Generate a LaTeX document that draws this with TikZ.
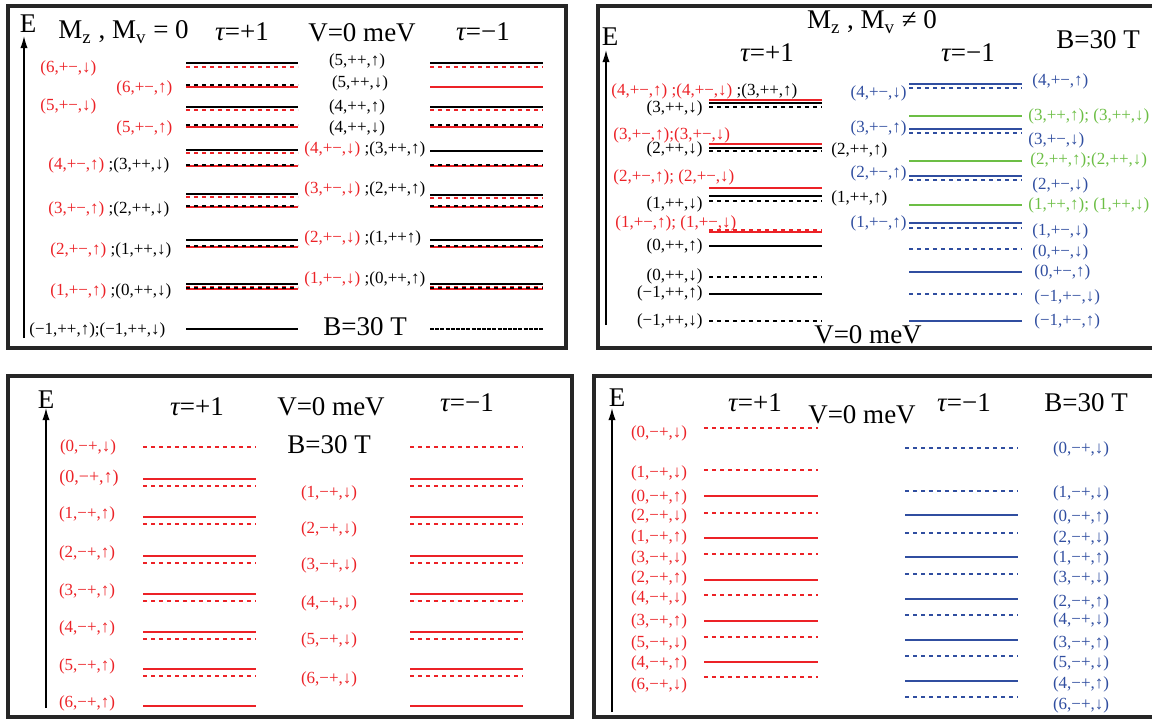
\documentclass[tikz,border=0pt]{standalone}
\usepackage{fontspec}
\setmainfont{Liberation Serif}
\usetikzlibrary{arrows.meta}
\definecolor{lvred}{RGB}{236,34,39}
\definecolor{lvblue}{RGB}{48,78,160}
\definecolor{lvgreen}{RGB}{108,190,69}
\newcommand{\tu}{{\itshape τ}}

\begin{document}
\begin{tikzpicture}[
  x=0.5pt, y=-0.5pt,
  frame/.style={draw=black!85, line width=1.6pt},
  eaxis/.style={-{Latex[length=6pt,width=3.6pt]}, line width=0.6pt},
  solidlv/.style={line width=1pt},
  dashlv/.style={line width=1pt, dash pattern=on 2pt off 2pt},
  big/.style={font=\fontsize{13.5}{15}\selectfont, inner sep=0pt},
  lbl/.style={font=\fontsize{8.5}{10}\selectfont, inner sep=0pt}
]
\useasboundingbox (0,0) rectangle (1152,720);

% ---------- panel 1: Mz, Mv = 0
\draw[frame] (8,6) rectangle (566,348);
\draw[eaxis] (24,338) -- (24,36);
\node[big] (e1) at (28,24) {E};
\node[big, anchor=west] (mz1) at (58,32) {M\textsubscript{z} , M\textsubscript{v} = 0};
\node[big] (tp1) at (242,32) {\tu=+1};
\node[big] (v1) at (362,33) {V=0 meV};
\node[big] (tm1) at (483,32) {\tu=−1};
\node[big] (b1) at (365,327) {B=30 T};

% tau=+1 levels
\draw[solidlv] (186,63) -- (298,63);
\draw[dashlv, lvred] (186,67) -- (298,67);
\draw[solidlv, lvred] (186,87) -- (298,87);
\draw[dashlv] (186,85) -- (298,85);
\draw[solidlv] (186,107) -- (298,107);
\draw[dashlv, lvred] (186,110) -- (298,110);
\draw[solidlv, lvred] (186,127) -- (298,127);
\draw[dashlv] (186,125) -- (298,125);
\draw[solidlv] (186,150) -- (298,150);
\draw[dashlv, lvred] (186,153) -- (298,153);
\draw[solidlv, lvred] (186,166) -- (298,166);
\draw[dashlv] (186,164.5) -- (298,164.5);
\draw[solidlv] (186,194) -- (298,194);
\draw[dashlv, lvred] (186,197) -- (298,197);
\draw[solidlv, lvred] (186,207) -- (298,207);
\draw[dashlv] (186,205.5) -- (298,205.5);
\draw[solidlv] (186,240) -- (298,240);
\draw[solidlv, lvred] (186,247) -- (298,247);
\draw[dashlv] (186,245.5) -- (298,245.5);
\draw[solidlv] (186,284) -- (298,284);
\draw[dashlv, lvred] (186,286.5) -- (298,286.5);
\draw[solidlv, lvred] (186,289) -- (298,289);
\draw[dashlv] (186,288) -- (298,288);
\draw[solidlv] (186,329) -- (298,329);

% tau=-1 levels
\draw[solidlv] (430,63) -- (543,63);
\draw[dashlv, lvred] (430,67) -- (543,67);
\draw[solidlv, lvred] (430,87) -- (543,87);
\draw[solidlv] (430,107) -- (543,107);
\draw[dashlv, lvred] (430,110) -- (543,110);
\draw[solidlv, lvred] (430,127) -- (543,127);
\draw[dashlv] (430,125) -- (543,125);
\draw[solidlv] (430,151) -- (543,151);
\draw[solidlv, lvred] (430,166) -- (543,166);
\draw[dashlv] (430,164.5) -- (543,164.5);
\draw[solidlv] (430,195) -- (543,195);
\draw[dashlv, lvred] (430,197.5) -- (543,197.5);
\draw[solidlv, lvred] (430,207) -- (543,207);
\draw[dashlv] (430,205.5) -- (543,205.5);
\draw[solidlv] (430,240) -- (543,240);
\draw[solidlv, lvred] (430,247) -- (543,247);
\draw[dashlv] (430,245.5) -- (543,245.5);
\draw[solidlv] (430,284) -- (543,284);
\draw[dashlv, lvred] (430,286.5) -- (543,286.5);
\draw[solidlv, lvred] (430,289) -- (543,289);
\draw[dashlv] (430,288) -- (543,288);
\draw[line width=1pt, dash pattern=on 2pt off 0.6pt] (430,329) -- (543,329);

% labels
\node[lbl, lvred, anchor=west] (a1) at (40,68) {(6,+−,↓)};
\node[lbl, lvred, anchor=west] (a2) at (116,88) {(6,+−,↑)};
\node[lbl, lvred, anchor=west] (a3) at (40,106) {(5,+−,↓)};
\node[lbl, lvred, anchor=west] (a4) at (116,128) {(5,+−,↑)};
\node[lbl, anchor=west] (a5) at (48,165) {\textcolor{lvred}{(4,+−,↑)} ;(3,++,↓)};
\node[lbl, anchor=west] (a6) at (48,209) {\textcolor{lvred}{(3,+−,↑)} ;(2,++,↓)};
\node[lbl, anchor=west] (a7) at (50,250) {\textcolor{lvred}{(2,+−,↑)} ;(1,++,↓)};
\node[lbl, anchor=west] (a8) at (50,291) {\textcolor{lvred}{(1,+−,↑)} ;(0,++,↓)};
\node[lbl, anchor=west] (a9) at (29,330) {(−1,++,↑);(−1,++,↓)};
\node[lbl] (c1) at (357,61) {(5,++,↑)};
\node[lbl] (c2) at (360,83) {(5,++,↓)};
\node[lbl] (c3) at (357,107) {(4,++,↑)};
\node[lbl] (c4) at (357,128) {(4,++,↓)};
\node[lbl, anchor=west] (c5) at (304,149) {\textcolor{lvred}{(4,+−,↓)} ;(3,++,↑)};
\node[lbl, anchor=west] (c6) at (304,189) {\textcolor{lvred}{(3,+−,↓)} ;(2,++,↑)};
\node[lbl, anchor=west] (c7) at (304,238) {\textcolor{lvred}{(2,+−,↓)} ;(1,++↑)};
\node[lbl, anchor=west] (c8) at (304,279) {\textcolor{lvred}{(1,+−,↓)} ;(0,++,↑)};

% ---------- panel 2: Mz, Mv != 0
\draw[frame] (598,6) rectangle (1156,348);
\draw[eaxis] (606,325) -- (606,50);
\node[big] (e2) at (610,37) {E};
\node[big] (mz2) at (872,22) {M\textsubscript{z} , M\textsubscript{v} ≠ 0};
\node[big] (tp2) at (767,53) {\tu=+1};
\node[big] (tm2) at (968,53) {\tu=−1};
\node[big] (b2) at (1098,40) {B=30 T};
\node[big] (v2) at (868,335) {V=0 meV};

% tau=+1 levels
\draw[solidlv, lvred, line width=1.4pt] (709,100) -- (822,100);
\draw[solidlv] (709,103) -- (822,103);
\draw[dashlv] (709,106.5) -- (822,106.5);
\draw[solidlv, lvred, line width=1.4pt] (709,144) -- (822,144);
\draw[solidlv] (709,147.5) -- (822,147.5);
\draw[dashlv] (709,151) -- (822,151);
\draw[solidlv, lvred, line width=1.4pt] (709,188) -- (822,188);
\draw[solidlv] (709,196) -- (822,196);
\draw[dashlv] (709,200.5) -- (822,200.5);
\draw[dashlv, lvred] (709,229.5) -- (822,229.5);
\draw[solidlv, lvred, line width=1.4pt] (709,232) -- (822,232);
\draw[solidlv] (709,246) -- (822,246);
\draw[dashlv] (709,277) -- (822,277);
\draw[solidlv] (709,294) -- (822,294);
\draw[dashlv] (709,321) -- (822,321);

% tau=-1 levels
\draw[solidlv, lvblue] (909,84) -- (1022,84);
\draw[dashlv, lvblue] (909,87.5) -- (1022,87.5);
\draw[solidlv, lvgreen, line width=1.3pt] (909,116) -- (1022,116);
\draw[solidlv, lvblue] (909,129) -- (1022,129);
\draw[dashlv, lvblue] (909,133) -- (1022,133);
\draw[solidlv, lvgreen, line width=1.3pt] (909,161) -- (1022,161);
\draw[solidlv, lvblue] (909,176) -- (1022,176);
\draw[dashlv, lvblue] (909,180) -- (1022,180);
\draw[solidlv, lvgreen, line width=1.3pt] (909,205) -- (1022,205);
\draw[solidlv, lvblue] (909,223) -- (1022,223);
\draw[dashlv, lvblue] (909,228) -- (1022,228);
\draw[dashlv, lvblue] (909,249) -- (1022,249);
\draw[solidlv, lvblue] (909,272) -- (1022,272);
\draw[dashlv, lvblue] (909,294) -- (1022,294);
\draw[solidlv, lvblue] (909,321) -- (1022,321);

% labels
\node[lbl, anchor=west] (d1) at (611,91) {\textcolor{lvred}{(4,+−,↑) ;(4,+−,↓)} ;(3,++,↑)};
\node[lbl, anchor=east] (d2) at (703,108) {(3,++,↓)};
\node[lbl, lvred, anchor=west] (d3) at (613,135) {(3,+−,↑);(3,+−,↓)};
\node[lbl, anchor=east] (d4) at (703,149) {(2,++,↓)};
\node[lbl, anchor=west] (d5) at (831,150) {(2,++,↑)};
\node[lbl, lvred, anchor=west] (d6) at (613,177) {(2,+−,↑); (2,+−,↓)};
\node[lbl, anchor=east] (d7) at (703,204) {(1,++,↓)};
\node[lbl, anchor=west] (d8) at (831,198) {(1,++,↑)};
\node[lbl, lvred, anchor=west] (d9) at (615,223) {(1,+−,↑); (1,+−,↓)};
\node[lbl, anchor=east] (d10) at (703,246) {(0,++,↑)};
\node[lbl, anchor=east] (d11) at (703,276) {(0,++,↓)};
\node[lbl, anchor=east] (d12) at (703,293) {(−1,++,↑)};
\node[lbl, anchor=east] (d13) at (703,321) {(−1,++,↓)};
\node[lbl, lvblue, anchor=east] (f1) at (907,93) {(4,+−,↓)};
\node[lbl, lvblue, anchor=west] (f2) at (1032,81) {(4,+−,↑)};
\node[lbl, lvgreen, anchor=west] (f3) at (1028,116) {(3,++,↑); (3,++,↓)};
\node[lbl, lvblue, anchor=east] (f4) at (907,128) {(3,+−,↑)};
\node[lbl, lvblue, anchor=west] (f5) at (1028,140) {(3,+−,↓)};
\node[lbl, lvgreen, anchor=west] (f6) at (1030,160) {(2,++,↑);(2,++,↓)};
\node[lbl, lvblue, anchor=east] (f7) at (907,173) {(2,+−,↑)};
\node[lbl, lvblue, anchor=west] (f8) at (1032,185) {(2,+−,↓)};
\node[lbl, lvgreen, anchor=west] (f9) at (1028,205) {(1,++,↑); (1,++,↓)};
\node[lbl, lvblue, anchor=east] (f10) at (907,223) {(1,+−,↑)};
\node[lbl, lvblue, anchor=west] (f11) at (1032,231) {(1,+−,↓)};
\node[lbl, lvblue, anchor=west] (f12) at (1032,252) {(0,+−,↓)};
\node[lbl, lvblue, anchor=west] (f13) at (1034,272) {(0,+−,↑)};
\node[lbl, lvblue, anchor=west] (f14) at (1034,297) {(−1,+−,↓)};
\node[lbl, lvblue, anchor=west] (f15) at (1034,321) {(−1,+−,↑)};

% ---------- panel 3
\draw[frame] (8,376) rectangle (572,717);
\draw[eaxis] (46,708) -- (46,408);
\node[big] (e3) at (46,400) {E};
\node[big] (tp3) at (197,407) {\tu=+1};
\node[big] (v3) at (331,407) {V=0 meV};
\node[big] (tm3) at (467,403) {\tu=−1};
\node[big] (b3) at (329,445) {B=30 T};
\draw[dashlv, lvred] (143,447) -- (256,447);
\draw[dashlv, lvred] (410,447) -- (523,447);
\foreach \y in {479,517,556,594,632,669} {
  \draw[solidlv, lvred] (143,\y) -- (256,\y);
  \draw[dashlv, lvred] (143,\y+7) -- (256,\y+7);
  \draw[solidlv, lvred] (410,\y) -- (523,\y);
  \draw[dashlv, lvred] (410,\y+7) -- (523,\y+7);
}
\draw[solidlv, lvred] (143,706) -- (256,706);
\draw[solidlv, lvred] (410,706) -- (523,706);
\node[lbl, lvred] (g0) at (88,447) {(0,−+,↓)};
\node[lbl, lvred, font=\fontsize{9}{10}\selectfont] (g1) at (89,478) {(0,−+,↑)};
\foreach \n/\y in {1/514,2/553,3/591,4/628,5/666,6/703}
  \node[lbl, lvred] (gu\n) at (87,\y) {(\n,−+,↑)};
\foreach \n/\y in {1/493,2/529,3/565,4/603,5/640,6/679}
  \node[lbl, lvred] (gd\n) at (329,\y) {(\n,−+,↓)};

% ---------- panel 4
\draw[frame] (594,376) rectangle (1156,717);
\draw[eaxis] (612,712) -- (612,408);
\node[big] (e4) at (617,398) {E};
\node[big] (tp4) at (755,403) {\tu=+1};
\node[big] (v4) at (862,415) {V=0 meV};
\node[big] (tm4) at (964,403) {\tu=−1};
\node[big] (b4) at (1086,403) {B=30 T};
\foreach \n/\y/\t in {0/428/433,1/470/473,2/513/516,3/554/558,4/595/598,5/637/643,6/677/685} {
  \draw[dashlv, lvred] (704,\y) -- (818,\y);
  \node[lbl, lvred] (hd\n) at (659,\t) {(\n,−+,↓)};
}
\foreach \n/\y/\t in {0/496/497,1/538/537,2/580/578,3/621/621,4/662/663} {
  \draw[solidlv, lvred] (704,\y) -- (818,\y);
  \node[lbl, lvred] (hu\n) at (659,\t) {(\n,−+,↑)};
}
\foreach \n/\y/\t in {0/448/449,1/491/493,2/533/538,3/574/578,4/615/620,5/656/663,6/697/705} {
  \draw[dashlv, lvblue] (905,\y) -- (1018,\y);
  \node[lbl, lvblue] (kd\n) at (1081,\t) {(\n,−+,↓)};
}
\foreach \n/\y/\t in {0/515/517,1/557/558,2/599/602,3/640/643,4/681/684} {
  \draw[solidlv, lvblue] (905,\y) -- (1018,\y);
  \node[lbl, lvblue] (ku\n) at (1081,\t) {(\n,−+,↑)};
}
\end{tikzpicture}
\end{document}
